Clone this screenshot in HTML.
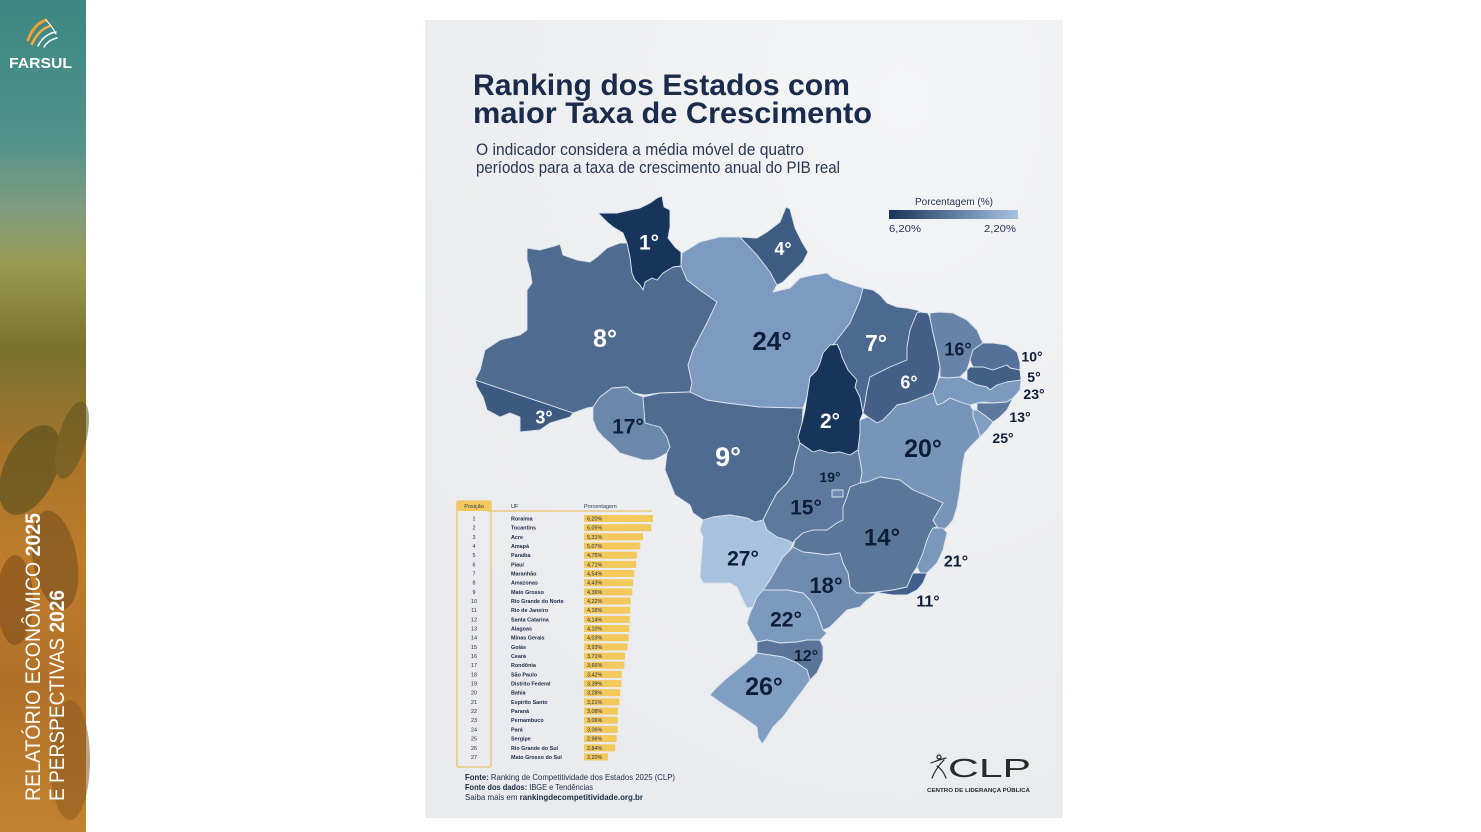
<!DOCTYPE html>
<html><head><meta charset="utf-8"><style>
html,body{margin:0;padding:0;background:#fff;}
svg{display:block;}
</style></head><body>
<svg width="1481" height="832" viewBox="0 0 1481 832" xmlns="http://www.w3.org/2000/svg">
<defs>
<linearGradient id="side" x1="0" y1="0" x2="0" y2="1">
<stop offset="0" stop-color="#3c8683"/>
<stop offset="0.17" stop-color="#52938a"/>
<stop offset="0.25" stop-color="#7f9c7f"/>
<stop offset="0.32" stop-color="#999a52"/>
<stop offset="0.42" stop-color="#79722f"/>
<stop offset="0.55" stop-color="#a9752a"/>
<stop offset="0.68" stop-color="#bf7d2c"/>
<stop offset="0.82" stop-color="#b07029"/>
<stop offset="1" stop-color="#c2822f"/>
</linearGradient>
<linearGradient id="leg" x1="0" y1="0" x2="1" y2="0">
<stop offset="0" stop-color="#17345a"/>
<stop offset="1" stop-color="#a9c2e2"/>
</linearGradient>
<radialGradient id="card" cx="0.75" cy="0.1" r="0.9">
<stop offset="0" stop-color="#f4f5f6"/>
<stop offset="1" stop-color="#eaebee"/>
</radialGradient>
</defs>

<!-- Sidebar -->
<rect x="0" y="0" width="86" height="832" fill="url(#side)"/>
<g opacity="0.55">
<ellipse cx="30" cy="470" rx="26" ry="48" fill="#4a4a1c" transform="rotate(25 30 470)"/>
<ellipse cx="72" cy="440" rx="14" ry="40" fill="#5a5520" transform="rotate(15 72 440)"/>
<ellipse cx="55" cy="560" rx="22" ry="50" fill="#6e4a1a" transform="rotate(-10 55 560)"/>
<ellipse cx="15" cy="600" rx="18" ry="45" fill="#7a4a18"/>
<ellipse cx="70" cy="760" rx="20" ry="60" fill="#8a5a1e"/>
</g>
<g stroke-linecap="round" fill="none">
<path d="M28 40 Q34 24 46 20" stroke="#f0a030" stroke-width="3"/>
<path d="M32 44 Q38 30 50 26" stroke="#f5b040" stroke-width="2.5"/>
<path d="M38 46 Q44 34 56 32" stroke="#ffffff" stroke-width="1.5"/>
<path d="M44 47 Q48 40 57 38" stroke="#ffffff" stroke-width="1.5"/>
<path d="M46 20 Q52 26 56 34" stroke="#ffffff" stroke-width="1.2"/>
</g>
<text x="9" y="68" font-family="Liberation Sans, sans-serif" font-weight="bold" font-size="15" fill="#ffffff" textLength="63" lengthAdjust="spacingAndGlyphs">FARSUL</text>
<text transform="translate(40 801) rotate(-90)" font-family="Liberation Sans Narrow, Liberation Sans, sans-serif" font-size="21" fill="#ffffff" textLength="288" lengthAdjust="spacingAndGlyphs">RELATÓRIO ECONÔMICO <tspan font-weight="bold">2025</tspan></text>
<text transform="translate(64 801) rotate(-90)" font-family="Liberation Sans Narrow, Liberation Sans, sans-serif" font-size="21" fill="#ffffff" textLength="211" lengthAdjust="spacingAndGlyphs">E PERSPECTIVAS <tspan font-weight="bold">2026</tspan></text>

<!-- Card -->
<rect x="425" y="20" width="638" height="798" fill="url(#card)"/>

<!-- Title -->
<g font-family="Liberation Sans, sans-serif" fill="#1b2b4b">
<text x="473" y="95" font-weight="bold" font-size="30" textLength="377" lengthAdjust="spacingAndGlyphs">Ranking dos Estados com</text>
<text x="473" y="123" font-weight="bold" font-size="30" textLength="399" lengthAdjust="spacingAndGlyphs">maior Taxa de Crescimento</text>
<text x="476" y="155" font-size="17" fill="#2a3552" textLength="328" lengthAdjust="spacingAndGlyphs">O indicador considera a média móvel de quatro</text>
<text x="476" y="173" font-size="17" fill="#2a3552" textLength="364" lengthAdjust="spacingAndGlyphs">períodos para a taxa de crescimento anual do PIB real</text>
</g>

<!-- Legend -->
<g font-family="Liberation Sans, sans-serif" fill="#2a3552" font-size="10">
<text x="954" y="205" text-anchor="middle" textLength="78" lengthAdjust="spacingAndGlyphs">Porcentagem (%)</text>
<rect x="889" y="210" width="129" height="9" fill="url(#leg)"/>
<text x="889" y="232" textLength="32" lengthAdjust="spacingAndGlyphs">6,20%</text>
<text x="1016" y="232" text-anchor="end" textLength="32" lengthAdjust="spacingAndGlyphs">2,20%</text>
</g>

<!-- Map -->
<g stroke="#dbe3ee" stroke-width="0.9" stroke-linejoin="round">
<polygon fill="#4f6b90" points="527,248 540,250 555,246 560,244 563,255 577,260 590,262 597,257 607,248 620,243 627,243 630,257 632,273 635,280 640,285 643,290 645,282 652,278 657,280 663,273 673,267 681,266 687,280 700,290 717,302 707,323 693,350 688,365 692,383 690,392 660,393 645,395 633,393 627,387 612,388 600,397 593,407 587,408 573,413 475,380 480,370 485,350 500,340 520,335 527,330 527,290 532,283 530,270 527,260"/>
<polygon fill="#17345a" points="598,213 607,213 617,213 630,210 640,208 650,203 657,198 662,196 664,207 670,210 670,227 668,238 675,247 681,252 681,266 673,267 663,273 657,280 652,278 645,282 643,290 640,285 635,280 632,273 630,257 627,243 623,233 613,227 607,222"/>
<polygon fill="#3c5980" points="475,380 573,413 570,417 560,420 550,423 540,430 520,432 520,417 510,413 500,417 487,410 483,397 477,387"/>
<polygon fill="#6b87ab" points="593,407 600,397 612,388 627,387 633,393 643,397 645,423 660,427 667,437 670,447 667,453 660,457 653,460 643,460 633,457 620,453 610,443 603,437 597,430 593,420"/>
<polygon fill="#4f6b90" points="643,397 660,393 690,392 707,400 727,403 760,407 803,408 802,423 798,437 800,443 798,450 795,460 793,473 787,483 777,493 772,502 763,520 755,522 747,518 730,515 713,517 703,520 693,513 690,505 675,495 665,470 667,453 670,447 667,437 660,427 645,423"/>
<polygon fill="#7d9ac0" points="681,266 682,253 700,242 720,237 740,237 757,255 770,272 777,285 773,292 790,288 800,278 813,275 827,273 833,278 853,285 863,288 860,300 850,323 833,345 823,353 820,363 817,370 810,377 807,397 803,408 760,407 727,403 707,400 690,392 692,383 688,365 693,350 707,323 717,302 700,290 687,280"/>
<polygon fill="#3e5b82" points="740,237 757,238 767,232 780,222 786,207 790,209 795,228 802,242 808,252 803,262 793,272 783,282 777,285 770,272 757,255"/>
<polygon fill="#17345a" points="830,345 837,344 840,350 842,357 848,370 857,380 855,387 860,397 863,413 860,420 860,433 858,450 850,455 840,452 830,453 820,450 813,452 800,443 798,437 802,423 805,410 807,397 810,377 817,370 820,363 823,353"/>
<polygon fill="#4c6990" points="863,288 873,290 880,295 887,303 897,307 907,308 917,310 920,312 917,313 910,330 907,347 907,360 890,367 870,377 867,390 865,403 863,413 860,397 855,387 857,380 848,370 842,357 840,350 837,344 833,345 850,323 860,300"/>
<polygon fill="#435f86" points="920,312 928,313 930,318 933,333 937,350 940,367 938,380 933,393 920,398 907,403 897,405 890,413 883,420 877,423 868,417 863,413 865,403 867,390 870,377 890,367 907,360 907,347 910,330 917,313"/>
<polygon fill="#6883a8" points="930,313 940,312 953,313 967,320 977,330 980,337 983,343 973,350 970,360 967,370 960,377 947,378 940,377 940,367 937,350 933,333 930,318"/>
<polygon fill="#55719a" points="983,343 993,343 1007,345 1017,352 1020,363 1020,370 1010,368 1007,365 993,370 983,367 973,367 970,360 973,350"/>
<polygon fill="#425f85" points="970,367 983,367 993,370 1007,365 1010,368 1020,370 1021,380 1007,382 997,385 990,390 987,387 977,385 967,380 967,370"/>
<polygon fill="#7c99be" points="940,377 947,378 960,377 967,380 977,385 987,387 990,390 997,385 1007,382 1021,380 1020,390 1013,398 1007,402 993,403 983,402 977,403 970,405 960,402 950,398 943,403 937,405 933,393 938,380"/>
<polygon fill="#5c789c" points="977,403 993,403 1007,402 1013,398 1007,410 1000,417 993,422 987,417 977,410"/>
<polygon fill="#809dc2" points="973,410 977,410 987,417 993,422 987,430 980,437 977,427 973,417"/>
<polygon fill="#7794b9" points="858,450 860,433 860,420 868,417 877,423 883,420 890,413 897,405 907,403 920,398 933,393 937,405 943,403 950,398 960,402 970,405 973,410 973,417 977,427 980,437 970,447 965,453 963,463 961,477 960,490 957,507 953,520 947,527 943,530 937,527 933,520 943,503 930,497 913,490 900,480 880,477 867,482 860,483 862,473 860,460"/>
<polygon fill="#5d799d" points="798,450 800,443 813,452 820,450 830,453 840,452 850,455 858,450 860,460 862,473 860,483 850,487 847,497 843,507 843,520 837,523 827,530 813,530 803,533 795,540 793,543 787,540 777,537 767,530 763,520 772,502 777,493 787,483 793,473 795,460"/>
<rect x="832" y="490" width="11" height="7" fill="#6f8bb0"/>
<polygon fill="#5a7699" points="860,483 867,482 880,477 900,480 913,490 930,497 943,503 933,520 937,527 933,528 930,533 927,540 923,553 917,567 913,573 910,580 907,587 893,590 877,592 867,593 857,593 850,587 848,573 843,563 840,553 827,555 813,553 803,552 793,547 795,540 803,533 813,530 827,530 837,523 843,520 843,507 847,497 850,487"/>
<polygon fill="#7a97bc" points="933,528 943,528 947,533 943,550 937,563 927,573 920,573 917,567 923,553 927,540 930,533"/>
<polygon fill="#41608a" points="913,573 920,573 927,573 923,583 917,590 907,595 893,595 880,593 877,592 893,590 907,587 910,580"/>
<polygon fill="#6f8bb0" points="793,547 803,552 813,553 827,555 840,553 843,563 848,573 850,587 857,593 867,593 877,593 867,600 860,607 847,610 837,620 830,627 823,630 817,613 810,600 803,593 787,590 773,590 763,590 770,580 777,567 783,557 790,550"/>
<polygon fill="#a8c1df" points="703,520 713,517 730,515 747,518 755,522 763,520 767,530 777,537 787,540 793,543 790,550 783,557 777,567 770,580 763,590 757,597 753,607 747,608 743,600 737,587 730,583 720,583 703,583 700,577 702,550 703,537 700,530"/>
<polygon fill="#7c99be" points="757,597 763,590 773,590 787,590 803,593 810,600 817,613 823,630 827,633 820,640 807,640 797,642 780,643 767,640 757,642 750,630 747,623 750,613 753,607"/>
<polygon fill="#5a7599" points="757,642 767,640 780,643 797,642 807,640 820,640 823,647 823,660 817,673 810,680 807,670 797,663 783,657 770,655 757,653"/>
<polygon fill="#809dc2" points="757,653 770,655 783,657 797,663 807,670 810,680 803,690 793,703 783,717 773,727 767,737 762,744 758,737 757,727 747,720 737,713 727,707 717,700 710,695 717,687 727,678 737,670 747,662"/>
</g>

<!-- Map labels -->
<g font-family="Liberation Sans, sans-serif" font-weight="bold" text-anchor="middle">
<g fill="#ffffff">
<text x="649" y="249.5" font-size="21">1°</text>
<text x="783" y="255" font-size="18">4°</text>
<text x="605" y="347" font-size="25">8°</text>
<text x="876" y="351" font-size="23">7°</text>
<text x="909" y="388.5" font-size="18">6°</text>
<text x="544" y="423.5" font-size="18">3°</text>
<text x="830" y="428" font-size="21">2°</text>
<text x="728" y="466" font-size="27">9°</text>
</g>
<g fill="#0f1e38">
<text x="772" y="350" font-size="26">24°</text>
<text x="958" y="355.5" font-size="18">16°</text>
<text x="1032" y="361.5" font-size="14">10°</text>
<text x="1034" y="382" font-size="14">5°</text>
<text x="1034" y="399" font-size="14">23°</text>
<text x="1020" y="422" font-size="14">13°</text>
<text x="1003" y="443" font-size="14">25°</text>
<text x="628" y="433.5" font-size="21">17°</text>
<text x="923" y="457" font-size="25">20°</text>
<text x="830" y="482" font-size="14">19°</text>
<text x="806" y="514.5" font-size="21">15°</text>
<text x="882" y="545.5" font-size="24">14°</text>
<text x="743" y="565.5" font-size="21">27°</text>
<text x="956" y="566.5" font-size="16">21°</text>
<text x="826" y="593" font-size="22">18°</text>
<text x="928" y="606.5" font-size="16">11°</text>
<text x="786" y="626.5" font-size="21">22°</text>
<text x="806" y="661" font-size="16">12°</text>
<text x="764" y="695" font-size="25">26°</text>
</g>
</g>

<!-- Table -->
<rect x="457" y="501" width="34" height="266" rx="1.5" fill="none" stroke="#e8c26a" stroke-width="1.3"/>
<rect x="457" y="501" width="34" height="10" fill="#f3c95b"/>
<line x1="488" y1="511" x2="652" y2="511" stroke="#e8c26a" stroke-width="1.3"/>
<g font-family="Liberation Sans, sans-serif" font-size="5.5" fill="#2a3552">
<text x="474" y="508" text-anchor="middle">Posição</text>
<text x="511" y="508">UF</text>
<text x="584" y="508">Porcentagem</text>
</g>
<g fill="#f3c95b">
<rect x="584" y="515" width="69" height="7"/>
<rect x="584" y="524.2" width="67.3" height="7"/>
<rect x="584" y="533.3" width="59" height="7"/>
<rect x="584" y="542.5" width="56.3" height="7"/>
<rect x="584" y="551.7" width="52.7" height="7"/>
<rect x="584" y="560.9" width="52.2" height="7"/>
<rect x="584" y="570" width="50.3" height="7"/>
<rect x="584" y="579.2" width="49.1" height="7"/>
<rect x="584" y="588.4" width="48.3" height="7"/>
<rect x="584" y="597.5" width="46.7" height="7"/>
<rect x="584" y="606.7" width="46.1" height="7"/>
<rect x="584" y="615.9" width="45.8" height="7"/>
<rect x="584" y="625" width="45.4" height="7"/>
<rect x="584" y="634.2" width="44.6" height="7"/>
<rect x="584" y="643.4" width="43.5" height="7"/>
<rect x="584" y="652.6" width="41" height="7"/>
<rect x="584" y="661.7" width="40.4" height="7"/>
<rect x="584" y="670.9" width="37.7" height="7"/>
<rect x="584" y="680.1" width="37.4" height="7"/>
<rect x="584" y="689.2" width="36.2" height="7"/>
<rect x="584" y="698.4" width="35.4" height="7"/>
<rect x="584" y="707.6" width="33.9" height="7"/>
<rect x="584" y="716.7" width="33.7" height="7"/>
<rect x="584" y="725.9" width="33.7" height="7"/>
<rect x="584" y="735.1" width="32.6" height="7"/>
<rect x="584" y="744.3" width="31.2" height="7"/>
<rect x="584" y="753.4" width="24" height="7"/>
</g>
<g font-family="Liberation Sans, sans-serif" font-size="5.4" font-weight="bold" fill="#1d2b45">
<g text-anchor="middle" font-weight="normal">
<text x="474" y="520.5">1</text><text x="474" y="529.7">2</text><text x="474" y="538.8">3</text><text x="474" y="548">4</text><text x="474" y="557.2">5</text><text x="474" y="566.4">6</text><text x="474" y="575.5">7</text><text x="474" y="584.7">8</text><text x="474" y="593.9">9</text><text x="474" y="603">10</text><text x="474" y="612.2">11</text><text x="474" y="621.4">12</text><text x="474" y="630.5">13</text><text x="474" y="639.7">14</text><text x="474" y="648.9">15</text><text x="474" y="658.1">16</text><text x="474" y="667.2">17</text><text x="474" y="676.4">18</text><text x="474" y="685.6">19</text><text x="474" y="694.7">20</text><text x="474" y="703.9">21</text><text x="474" y="713.1">22</text><text x="474" y="722.2">23</text><text x="474" y="731.4">24</text><text x="474" y="740.6">25</text><text x="474" y="749.8">26</text><text x="474" y="758.9">27</text>
</g>
<text x="511" y="520.5">Roraima</text><text x="511" y="529.7">Tocantins</text><text x="511" y="538.8">Acre</text><text x="511" y="548">Amapá</text><text x="511" y="557.2">Paraíba</text><text x="511" y="566.4">Piauí</text><text x="511" y="575.5">Maranhão</text><text x="511" y="584.7">Amazonas</text><text x="511" y="593.9">Mato Grosso</text><text x="511" y="603">Rio Grande do Norte</text><text x="511" y="612.2">Rio de Janeiro</text><text x="511" y="621.4">Santa Catarina</text><text x="511" y="630.5">Alagoas</text><text x="511" y="639.7">Minas Gerais</text><text x="511" y="648.9">Goiás</text><text x="511" y="658.1">Ceará</text><text x="511" y="667.2">Rondônia</text><text x="511" y="676.4">São Paulo</text><text x="511" y="685.6">Distrito Federal</text><text x="511" y="694.7">Bahia</text><text x="511" y="703.9">Espírito Santo</text><text x="511" y="713.1">Paraná</text><text x="511" y="722.2">Pernambuco</text><text x="511" y="731.4">Pará</text><text x="511" y="740.6">Sergipe</text><text x="511" y="749.8">Rio Grande do Sul</text><text x="511" y="758.9">Mato Grosso do Sul</text>
<g font-weight="normal">
<text x="587" y="520.5">6,20%</text><text x="587" y="529.7">6,05%</text><text x="587" y="538.8">5,31%</text><text x="587" y="548">5,07%</text><text x="587" y="557.2">4,75%</text><text x="587" y="566.4">4,71%</text><text x="587" y="575.5">4,54%</text><text x="587" y="584.7">4,43%</text><text x="587" y="593.9">4,36%</text><text x="587" y="603">4,22%</text><text x="587" y="612.2">4,16%</text><text x="587" y="621.4">4,14%</text><text x="587" y="630.5">4,10%</text><text x="587" y="639.7">4,03%</text><text x="587" y="648.9">3,93%</text><text x="587" y="658.1">3,71%</text><text x="587" y="667.2">3,66%</text><text x="587" y="676.4">3,42%</text><text x="587" y="685.6">3,39%</text><text x="587" y="694.7">3,28%</text><text x="587" y="703.9">3,21%</text><text x="587" y="713.1">3,08%</text><text x="587" y="722.2">3,06%</text><text x="587" y="731.4">3,06%</text><text x="587" y="740.6">2,96%</text><text x="587" y="749.8">2,84%</text><text x="587" y="758.9">2,20%</text>
</g>
</g>

<!-- Footer -->
<g font-family="Liberation Sans, sans-serif" font-size="8.3" fill="#1d2b45">
<text x="465" y="780" textLength="210" lengthAdjust="spacingAndGlyphs"><tspan font-weight="bold">Fonte:</tspan> Ranking de Competitividade dos Estados 2025 (CLP)</text>
<text x="465" y="790" textLength="128" lengthAdjust="spacingAndGlyphs"><tspan font-weight="bold">Fonte dos dados:</tspan> IBGE e Tendências</text>
<text x="465" y="800" textLength="178" lengthAdjust="spacingAndGlyphs">Saiba mais em <tspan font-weight="bold">rankingdecompetitividade.org.br</tspan></text>
</g>

<!-- CLP logo -->
<g fill="none" stroke="#2a2a2a" stroke-width="1.2" stroke-linecap="round">
<circle cx="939" cy="757" r="2"/>
<path d="M931 763 Q938 760 946 758"/>
<path d="M944 760 Q936 768 932 778"/>
<path d="M937 766 Q943 770 946 778"/>
</g>
<text x="948" y="777" font-family="Liberation Sans, sans-serif" font-size="26" fill="#2a2a2a" textLength="83" lengthAdjust="spacingAndGlyphs">CLP</text>
<text x="927" y="792" font-family="Liberation Sans, sans-serif" font-size="5.3" font-weight="bold" fill="#2a2a2a" textLength="103" lengthAdjust="spacingAndGlyphs">CENTRO DE LIDERANÇA PÚBLICA</text>
</svg>
</body></html>
